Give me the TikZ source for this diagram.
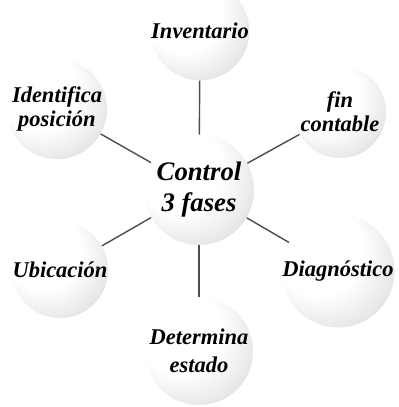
\documentclass[tikz,border=0pt]{standalone}
\usepackage{fontspec}
\setmainfont{Liberation Serif}
\pgfdeclareradialshading{speckle}{\pgfqpoint{-15bp}{15bp}}{color(0bp)=(white); color(20bp)=(white); color(31bp)=(black!9); color(40bp)=(black!24); color(46bp)=(black!34); color(50bp)=(black!34)}
\begin{document}
\begin{tikzpicture}[x=0.025cm, y=-0.025cm,
  sphere/.style={circle, shading=speckle, align=center, inner sep=0pt,
    font=\fontsize{16}{17}\selectfont\bfseries\itshape},
  outer/.style={sphere, minimum size=2.3cm},
  hub/.style={sphere, minimum size=2.75cm, font=\fontsize{19}{22}\selectfont\bfseries\itshape},
  spoke/.style={draw=black!70, line width=1pt}]
  \useasboundingbox (0,0) rectangle (399,407);
  \node[hub] (ctl) at (199,190) {Control\\3 fases};
  \node[outer] (inv) at (200,31) {Inventario};
  \node[outer] (ide) at (57,109) {Identifica\\posición};
  \node[outer] (fin) at (340,112) {fin\\contable};
  \node[outer] (ubi) at (60,270) {Ubicación};
  \node[outer] (dia) at (338,271) {Diagnóstico};
  \node[outer, font=\fontsize{16}{20}\selectfont\bfseries\itshape] (det) at (199,351) {Determina\\estado};
  \foreach \n in {inv, ide, fin, ubi, dia, det}
    \draw[spoke] (ctl) -- (\n);
\end{tikzpicture}
\end{document}
